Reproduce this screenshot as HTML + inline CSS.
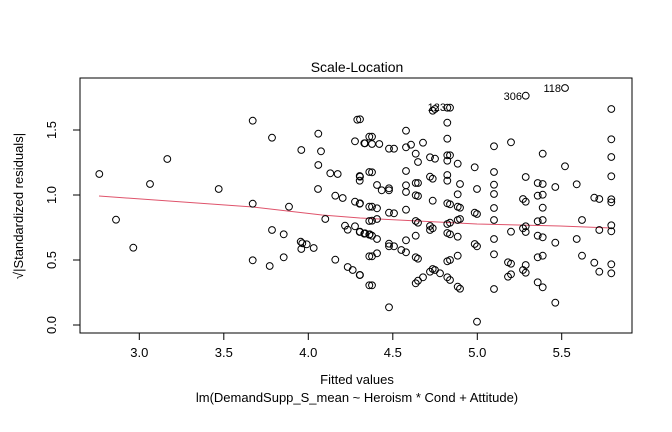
<!DOCTYPE html>
<html><head><meta charset="utf-8"><style>
html,body{margin:0;padding:0;background:#fff;}
svg{display:block;font-family:"Liberation Sans",Arial,sans-serif;}
</style></head><body>
<svg id="s" width="672" height="432" viewBox="0 0 672 432" xmlns="http://www.w3.org/2000/svg">
<rect x="0" y="0" width="672" height="432" fill="#fff"/>
<rect x="80" y="78" width="552" height="255" fill="none" stroke="#000" stroke-width="1"/>
<text x="357" y="72" font-size="14" text-anchor="middle">Scale-Location</text>
<g stroke="#000" stroke-width="1">
<line x1="139.3" y1="333" x2="561.7" y2="333"/>
<line x1="139.3" y1="333" x2="139.3" y2="340"/>
<line x1="223.8" y1="333" x2="223.8" y2="340"/>
<line x1="308.3" y1="333" x2="308.3" y2="340"/>
<line x1="392.8" y1="333" x2="392.8" y2="340"/>
<line x1="477.3" y1="333" x2="477.3" y2="340"/>
<line x1="561.7" y1="333" x2="561.7" y2="340"/>
<line x1="80" y1="325" x2="80" y2="130"/>
<line x1="80" y1="325" x2="73" y2="325"/>
<line x1="80" y1="260" x2="73" y2="260"/>
<line x1="80" y1="195" x2="73" y2="195"/>
<line x1="80" y1="130" x2="73" y2="130"/>
</g>
<g font-size="13" text-anchor="middle">
<text x="139.3" y="357">3.0</text><text x="223.8" y="357">3.5</text><text x="308.3" y="357">4.0</text>
<text x="392.8" y="357">4.5</text><text x="477.3" y="357">5.0</text><text x="561.7" y="357">5.5</text>
<text transform="translate(56,325) rotate(-90)">0.0</text>
<text transform="translate(56,260) rotate(-90)">0.5</text>
<text transform="translate(56,195) rotate(-90)">1.0</text>
<text transform="translate(56,130) rotate(-90)">1.5</text>
<text x="357" y="384">Fitted values</text>
<text x="357" y="402">lm(DemandSupp_S_mean ~ Heroism * Cond + Attitude)</text>
<text transform="translate(23,206) rotate(-90)">√|Standardized residuals|</text>
</g>
<polyline points="99,196 253,207 322,215 360,218 477,224 560,226 611,228" fill="none" stroke="#DF536B" stroke-width="1"/>
<g font-size="11" text-anchor="end">
<text x="446" y="111">123</text><text x="522" y="100">306</text><text x="561" y="92">118</text>
</g>
<g id="p" fill="none" stroke="#000" stroke-width="1"></g>
</svg>
<script>
var a=[[58,312],[108,449],[160,533],[210,342],[262,267],[416,357],[518,152],[518,401],[518,571],[576,203],[576,480],[569,588],[611,493],[611,562],[627,410],[664,240],[662,515],[667,520],[680,523],[664,537],[701,534],[715,191],[723,244],[715,285],[714,357],[736,447],[751,310],[773,312],[766,377],[788,384],[766,569],[803,591],[818,600],[839,615],[832,149],[825,214],[853,220],[839,318],[839,332],[825,395],[839,401],[795,467],[803,479],[825,469],[839,486],[853,491],[868,494],[868,200],[868,306],[868,410],[868,453],[868,559],[868,646]];
var b=[[0,148],[15,220],[36,200],[36,222],[58,222],[87,236],[102,236],[138,182],[138,232],[153,224],[189,218],[167,251],[174,276],[210,262],[225,266],[262,158],[262,206],[262,256],[262,272],[270,256],[293,281],[36,307],[0,320],[51,345],[65,361],[87,355],[87,361],[138,303],[138,346],[138,366],[167,339],[174,339],[167,376],[174,378],[210,320],[218,326],[218,392],[262,315],[262,332],[300,342],[293,373],[344,292],[351,357],[0,400],[36,410],[51,415],[36,452],[51,447],[87,428],[102,430],[138,419],[167,453],[174,458],[210,468],[218,475],[210,480],[262,400],[270,403],[293,410],[300,413],[262,462],[270,458],[293,450],[300,447],[344,428],[351,432],[0,485],[15,490],[29,493],[36,497],[51,507],[87,521],[87,529],[102,529],[124,540],[138,511],[138,547],[167,497],[167,562],[174,566],[262,489],[270,493],[293,500],[262,574],[270,570],[293,557],[344,522],[351,529],[36,559],[51,550],[0,615],[36,646],[87,712],[167,640],[174,632],[189,622],[210,605],[218,597],[225,600],[240,610],[262,622],[270,630],[293,650],[300,656],[351,755],[402,229],[402,306],[402,344],[402,372],[402,414],[402,450],[402,507],[402,553],[402,657],[453,217],[453,485],[444,577],[453,581],[444,620],[453,613],[497,77],[497,321],[489,387],[497,395],[497,469],[489,475],[497,486],[497,585],[489,600],[497,608],[548,251],[533,339],[548,342],[533,377],[548,374],[548,413],[533,454],[548,450],[533,497],[548,502],[533,562],[548,557],[533,637],[548,652],[586,351],[586,518],[586,698],[615,54],[615,289],[650,343],[650,507],[666,450],[666,557],[703,383],[718,387],[718,480],[703,578],[718,605],[754,117],[754,208],[754,261],[754,319],[754,388],[754,397],[754,466],[754,484],[754,583],[754,610],[225,117],[218,122],[262,113],[270,113]];
var g=document.getElementById('p'),ns='http://www.w3.org/2000/svg';
function add(x,y){var c=document.createElementNS(ns,'circle');c.setAttribute('cx',x.toFixed(1));c.setAttribute('cy',y.toFixed(1));c.setAttribute('r','3.4');g.appendChild(c);}
a.forEach(function(p){add(80+p[0]/3,70+p[1]/3);});
b.forEach(function(p){add(360+p[0]/3,70+p[1]/3);});
</script>
</body></html>
